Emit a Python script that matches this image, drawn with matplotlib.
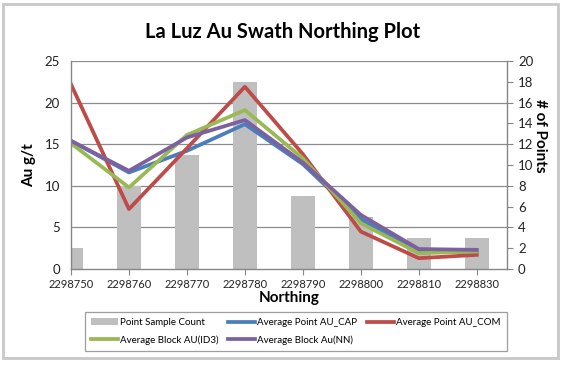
import numpy as np
import matplotlib.pyplot as plt
from matplotlib.patches import Rectangle

plt.rcParams['font.family'] = ['Lato', 'DejaVu Sans']

northing = ['2298750', '2298760', '2298770', '2298780', '2298790', '2298800', '2298810', '2298830']
counts = [2, 8, 11, 18, 7, 5, 3, 3]
au_cap = [15.4, 11.6, 14.2, 17.4, 12.6, 6.0, 2.1, 2.0]
au_com = [22.2, 7.2, 14.5, 21.9, 13.8, 4.5, 1.3, 1.7]
au_id3 = [15.1, 9.8, 16.1, 19.1, 13.3, 5.5, 1.9, 2.1]
au_nn = [15.4, 11.8, 15.8, 17.9, 12.8, 6.5, 2.4, 2.3]

x = np.arange(len(northing))

fig = plt.figure(figsize=(5.62, 3.65), dpi=100)
fig.patches.append(Rectangle((0.006, 0.02), 0.986, 0.968, transform=fig.transFigure,
                             fill=False, ec='#c8c8c8', lw=2))

ax = fig.add_axes([0.1263, 0.263, 0.7757, 0.57])
ax2 = ax.twinx()
ax.set_zorder(ax2.get_zorder() + 1)
ax.patch.set_visible(False)

# bars (right scale) behind the lines
for g in [4, 8, 12, 16, 20]:
    ax2.axhline(g, color='#8c8c8c', lw=0.9, zorder=0)
b = ax2.bar(x, counts, width=0.41, color='#bfbfbf', zorder=2, label='Point Sample Count')
ax2.set_ylim(0, 20)
ax2.set_yticks(range(0, 21, 2))

lw = 2.7
l1, = ax.plot(x, au_cap, color='#4a7ebb', lw=lw, label='Average Point AU_CAP')
l2, = ax.plot(x, au_com, color='#be4b48', lw=lw, label='Average Point AU_COM')
l3, = ax.plot(x, au_id3, color='#98b954', lw=lw, label='Average Block AU(ID3)')
l4, = ax.plot(x, au_nn, color='#7d60a0', lw=lw, label='Average Block Au(NN)')

ax.set_xlim(0, 7.52)
ax.set_ylim(0, 25)
ax.set_yticks(range(0, 26, 5))
ax.set_xticks(x)
ax.set_xticklabels(northing)

for a in (ax, ax2):
    for s in a.spines.values():
        s.set_visible(False)
ax.spines['left'].set_visible(True)
ax.spines['bottom'].set_visible(True)
ax2.spines['right'].set_visible(True)
for s in (ax.spines['left'], ax.spines['bottom'], ax2.spines['right']):
    s.set_color('#868686')
    s.set_linewidth(1.0)

ax.tick_params(axis='y', length=0, labelsize=9.5, pad=8, colors='#222222')
ax.tick_params(axis='x', length=4, color='#868686', labelsize=8, pad=3, labelcolor='#222222')
ax2.tick_params(axis='y', length=4, color='#868686', labelsize=9.5, pad=4, labelcolor='#222222')

ax.set_xlabel('Northing', fontsize=11, fontweight='bold', labelpad=1)
ax.set_ylabel('Au g/t', fontsize=11, fontweight='bold', labelpad=6)
ax2.set_ylabel('# of Points', fontsize=11, fontweight='bold', rotation=270, labelpad=10, y=0.64)

fig.text(0.502, 0.912, 'La Luz Au Swath Northing Plot', ha='center', va='center',
         fontsize=14.5, fontweight='bold')

handles = [b, l3, l1, l4, l2]
leg = fig.legend(handles, [h.get_label() for h in handles], ncol=3, loc='upper left',
                 bbox_to_anchor=(0.151, 0.145), fontsize=7, frameon=True, fancybox=False,
                 handlelength=2.8, handleheight=0.6, handletextpad=0.2, columnspacing=1.0,
                 borderpad=0.6, labelspacing=0.85, borderaxespad=0)
leg.get_frame().set_edgecolor('#868686')
leg.get_frame().set_linewidth(0.9)

fig.savefig('out.png', dpi=100)
